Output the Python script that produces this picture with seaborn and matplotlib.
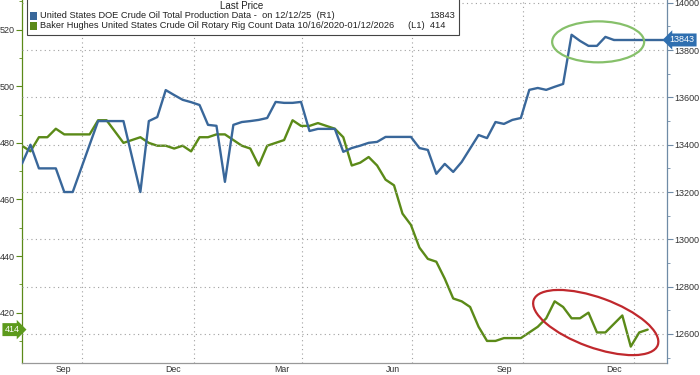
import numpy as np
import pandas as pd
import seaborn as sns
import matplotlib
matplotlib.use("Agg")
import matplotlib.pyplot as plt
import matplotlib.dates as mdates
from matplotlib.patches import Ellipse, Rectangle
from matplotlib.transforms import ScaledTranslation

# Baker Hughes oil rig count (left axis), weekly
rig_count = [479, 477, 482, 482, 485, 483, 483, 483, 483, 488,
             488, 484, 480, 481, 482, 480, 479, 479, 478, 479,
             477, 482, 482, 483, 483, 481, 479, 478, 472, 479,
             480, 481, 488, 486, 486, 487, 486, 485, 482, 472,
             473, 475, 472, 467, 465, 455, 451, 443, 439, 438,
             432, 425, 424, 422, 415, 410, 410, 411, 411, 411,
             413, 415, 418, 424, 422, 418, 418, 420, 413, 413,
             416, 419, 408, 413, 414]
# DOE crude production, kb/d (right axis), weekly
production = [13320, 13400, 13300, 13300, 13300, 13200, 13200, 13300, 13400, 13500,
              13500, 13500, 13500, 13350, 13200, 13500, 13517, 13631, 13610, 13590,
              13580, 13568, 13484, 13480, 13243, 13484, 13496, 13500, 13505, 13513,
              13581, 13577, 13577, 13581, 13458, 13467, 13467, 13467, 13370, 13386,
              13396, 13408, 13412, 13433, 13433, 13433, 13433, 13386, 13378, 13277,
              13319, 13285, 13327, 13384, 13441, 13428, 13496, 13488, 13505, 13513,
              13632, 13640, 13632, 13645, 13657, 13865, 13839, 13818, 13818, 13856,
              13843]
rig_dates = pd.date_range("2024-08-12", periods=len(rig_count), freq="7D")
prod_dates = pd.date_range("2024-08-12", periods=len(production), freq="7D")

x_start = pd.Timestamp("2024-08-12")
x_end = pd.Timestamp("2026-01-28")
month_labels = ["Sep", "Dec", "Mar", "Jun", "Sep", "Dec"]
label_dates = pd.to_datetime(["2024-09-15", "2024-12-15", "2025-03-15",
                              "2025-06-15", "2025-09-15", "2025-12-15"])
grid_dates = pd.to_datetime(["2024-10-01", "2025-01-01", "2025-04-01",
                             "2025-07-01", "2025-10-01", "2026-01-01"])

BLUE = "#39679a"
GREEN = "#5b8a18"

sns.set_style("white")
plt.rcParams["font.family"] = ["Liberation Sans", "DejaVu Sans"]

W, H = 700, 375
fig = plt.figure(figsize=(7, 3.75), dpi=100)
ax = fig.add_axes([22 / W, 12 / H, 645 / W, 363 / H])
ax2 = ax.twinx()

def px(x, y):
    # pixel (from top-left) -> figure fraction
    return x / W, 1 - y / H

rigs = pd.DataFrame({"date": rig_dates, "rigs": rig_count})
prod = pd.DataFrame({"date": prod_dates, "prod": production})
sns.lineplot(data=rigs, x="date", y="rigs", ax=ax, color=GREEN, lw=1.7)
sns.lineplot(data=prod, x="date", y="prod", ax=ax2, color=BLUE, lw=1.7)
ax2.plot([prod_dates[-1], x_end], [production[-1]] * 2, color=BLUE, lw=1.7)

ax.set_xlim(x_start, x_end)
ax.set_ylim(402.2, 530.5)
ax2.set_ylim(12477, 14012)
ax.set_xlabel("")
ax.set_ylabel("")
ax2.set_ylabel("")

# grid
for d in grid_dates:
    ax.axvline(d, color="#a0a0a0", ls=(0, (1, 3)), lw=0.8, zorder=0)
ax2.grid(axis="y", color="#a0a0a0", ls=(0, (1, 3)), lw=0.8)
ax2.grid(axis="x", visible=False)

# x ticks
ax.set_xticks(label_dates)
ax.set_xticklabels(month_labels)
ax.xaxis.set_minor_locator(mdates.MonthLocator())
ax.tick_params(axis="x", which="major", length=0, pad=1.5, labelsize=6.3, labelcolor="#333333")
ax.tick_params(axis="x", which="minor", length=2.5, color="#888888", direction="out")

# y ticks
ax.set_yticks(range(420, 521, 20))
ax.set_yticks(range(410, 531, 10), minor=True)
ax.tick_params(axis="y", which="both", direction="out", color=GREEN, labelsize=6.5,
               labelcolor="#333333", pad=1)
ax.tick_params(axis="y", which="major", length=4)
ax.tick_params(axis="y", which="minor", length=2.5)
ax2.set_yticks(range(12600, 14001, 200))
ax2.set_yticks(range(12500, 14001, 100), minor=True)
ax2.tick_params(axis="y", which="both", direction="out", color="#6f8ba6", labelsize=6.5,
                labelcolor="#333333", pad=1)
ax2.tick_params(axis="y", which="major", length=4)
ax2.tick_params(axis="y", which="minor", length=2.5)

for a in (ax, ax2):
    a.spines["top"].set_visible(False)
ax.spines["right"].set_visible(False)
ax2.spines["left"].set_visible(False)
ax2.spines["bottom"].set_visible(False)
ax.spines["left"].set_color(GREEN)
ax2.spines["right"].set_color("#6f8ba6")
ax.spines["bottom"].set_color("#999999")
for s in ("left", "bottom"):
    ax.spines[s].set_linewidth(0.9)
ax2.spines["right"].set_linewidth(0.9)

# last value tags
ax2.text(1.004, production[-1], f"{production[-1]}", transform=ax2.get_yaxis_transform(),
         ha="left", va="center", color="white", fontsize=6.5, clip_on=False,
         bbox=dict(boxstyle="larrow,pad=0.22", fc="#2f6fb0", ec="none"))
ax.text(-0.004, rig_count[-1], f"{rig_count[-1]}", transform=ax.get_yaxis_transform(),
        ha="right", va="center", color="white", fontsize=6.5, clip_on=False,
        bbox=dict(boxstyle="rarrow,pad=0.22", fc="#5c9a1c", ec="none"))

# highlight ellipses
green_center = (mdates.date2num(pd.Timestamp("2025-12-02")), 13835)
ell_g = Ellipse((0, 0), 0.92, 0.41, angle=0, fill=False, ec="#86c06a", lw=1.6,
                transform=fig.dpi_scale_trans + ScaledTranslation(*green_center, ax2.transData),
                clip_on=False, zorder=4)
ax2.add_patch(ell_g)
red_center = (mdates.date2num(pd.Timestamp("2025-11-30")), 416.5)
ell_r = Ellipse((0, 0), 1.32, 0.50, angle=-20, fill=False, ec="#c0282d", lw=1.6,
                transform=fig.dpi_scale_trans + ScaledTranslation(*red_center, ax.transData),
                clip_on=False, zorder=4)
ax2.add_patch(ell_r)

# legend box
x0, y0 = px(27, 35)
fig.add_artist(Rectangle((x0, y0), 432 / W, 50 / H, transform=fig.transFigure,
                         fc="white", ec="#444444", lw=0.8, zorder=5))
fig.text(*px(242, 6), "Last Price", ha="center", va="center", fontsize=7,
         color="#222222", zorder=6)
for row_y, col, label, val, val_x in [
        (16, BLUE, "United States DOE Crude Oil Total Production Data -  on 12/12/25  (R1)",
         f"{production[-1]}", 455),
        (26, GREEN, "Baker Hughes United States Crude Oil Rotary Rig Count Data 10/16/2020-01/12/2026",
         f"(L1)  {rig_count[-1]}", 445)]:
    sx, sy = px(30, row_y + 3.5)
    fig.add_artist(Rectangle((sx, sy), 7 / W, 7 / H, transform=fig.transFigure,
                             fc=col, ec="none", zorder=6))
    fig.text(*px(40, row_y), label, ha="left", va="center", fontsize=6.7,
             color="#222222", zorder=6)
    fig.text(*px(val_x, row_y), val, ha="right", va="center", fontsize=6.7,
             color="#222222", zorder=6)

fig.savefig("out.png", dpi=100)
